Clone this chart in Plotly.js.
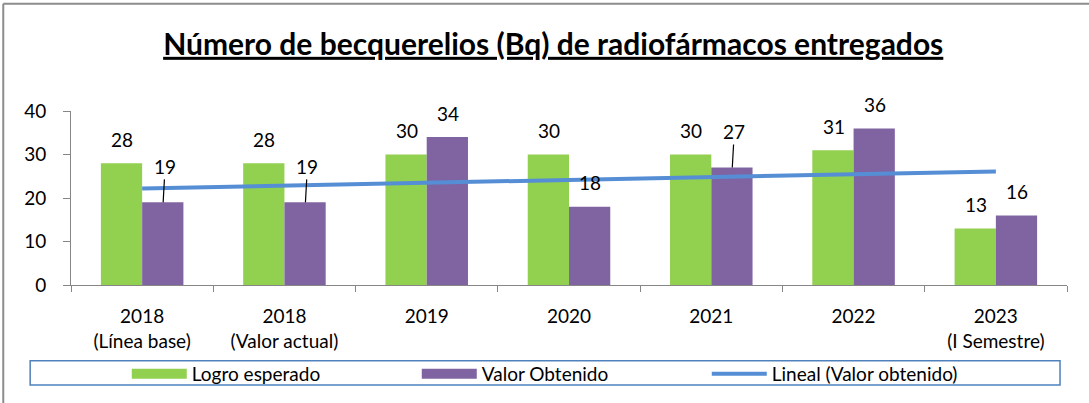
<!DOCTYPE html>
<html>
<head>
<meta charset="utf-8">
<script src="https://cdn.plot.ly/plotly-3.0.1.min.js"></script>
<style>
  body { margin: 0; background: #fff; }
  #grafico { width: 1089px; height: 403px; }
</style>
</head>
<body>
<div id="grafico"></div>
<script>
const CATEGORIAS = ["2018<br>(Línea base)", "2018<br>(Valor actual)", "2019", "2020", "2021", "2022", "2023<br>(I Semestre)"];
const LOGRO_ESPERADO = [28, 28, 30, 30, 30, 31, 13];
const VALOR_OBTENIDO = [19, 19, 34, 18, 27, 36, 16];
// Extremos de la línea de tendencia
const TENDENCIA = [22.2, 26.1];
// Etiquetas con línea guía
const CON_GUIA = [0, 1, 4];

const FUENTE = "Lato, 'Liberation Sans', sans-serif";
const VERDE = "#92D050";
const MORADO = "#8064A2";
const AZUL = "#558ED5";

// Definiendo datos
const DATA = [
     {
          x: CATEGORIAS,
          y: LOGRO_ESPERADO,
          name: "Logro esperado",
          type: "bar",
          marker: { color: VERDE },
          showlegend: false
     },
     {
          x: CATEGORIAS,
          y: VALOR_OBTENIDO,
          name: "Valor Obtenido",
          type: "bar",
          marker: { color: MORADO },
          showlegend: false
     },
     {
          x: [CATEGORIAS[0], CATEGORIAS[CATEGORIAS.length - 1]],
          y: TENDENCIA,
          name: "Lineal (Valor obtenido)",
          type: "scatter",
          mode: "lines",
          line: { color: AZUL, width: 4 },
          showlegend: false
     },
     // Entradas de la leyenda (muestras anchas como en Excel)
     { x: [null], y: [null], type: "scatter", mode: "lines", name: "Logro esperado",
       line: { color: VERDE, width: 12 } },
     { x: [null], y: [null], type: "scatter", mode: "lines", name: "Valor Obtenido",
       line: { color: MORADO, width: 12 } },
     { x: [null], y: [null], type: "scatter", mode: "lines", name: "Lineal (Valor obtenido)",
       line: { color: AZUL, width: 4 } }
];

// Etiquetas de datos (en ejes de categoría la anotación usa el índice)
const ANOTACIONES = [];
CATEGORIAS.forEach((cat, i) => {
     ANOTACIONES.push({
          x: i, y: LOGRO_ESPERADO[i], xshift: -20, yshift: 24,
          text: String(LOGRO_ESPERADO[i]), showarrow: false, yanchor: "middle"
     });
     if (CON_GUIA.includes(i)) {
          ANOTACIONES.push({
               x: i, y: VALOR_OBTENIDO[i], xshift: 21,
               text: String(VALOR_OBTENIDO[i]), showarrow: true,
               arrowhead: 0, arrowwidth: 1.2, arrowcolor: "#000",
               ax: 2, ay: -36, standoff: 0
          });
     } else {
          ANOTACIONES.push({
               x: i, y: VALOR_OBTENIDO[i], xshift: 21, yshift: 24,
               text: String(VALOR_OBTENIDO[i]), showarrow: false, yanchor: "middle"
          });
     }
});

// Definiendo layout
const LAYOUT = {
     width: 1089,
     height: 403,
     margin: { l: 71, r: 22, t: 111, b: 117 },
     paper_bgcolor: "#fff",
     plot_bgcolor: "#fff",
     font: { family: FUENTE, size: 19, color: "#000" },
     showlegend: true,

     // -> Cabecera
     title: {
          text: "<b>Número de becquerelios (Bq) de radiofármacos entregados</b>",
          font: { family: FUENTE, size: 30, color: "#000", lineposition: "under" },
          xref: "container", x: 0.508, xanchor: "center",
          yref: "container", y: 0.89, yanchor: "middle"
     },

     bargap: 0.42,
     bargroupgap: 0,

     // -> Pie
     xaxis: {
          type: "category",
          range: [-0.5, CATEGORIAS.length - 0.5],
          tickangle: 0,
          showline: true, linecolor: "#868686", linewidth: 1,
          ticks: "outside", tickson: "boundaries", ticklen: 6, tickcolor: "#868686",
          ticklabelstandoff: 14,
          showgrid: false, zeroline: false
     },

     // -> Lateral
     yaxis: {
          range: [0, 40], dtick: 10,
          showline: true, linecolor: "#868686", linewidth: 1,
          ticks: "outside", ticklen: 7, tickcolor: "#868686",
          ticklabelstandoff: 13,
          showgrid: false, zeroline: false
     },

     legend: {
          orientation: "h",
          x: 0.056, xanchor: "left",
          y: -0.503, yanchor: "middle",
          entrywidth: 220,
          itemwidth: 55,
          font: { family: FUENTE, size: 19, color: "#000" },
          bgcolor: "rgba(0,0,0,0)"
     },

     annotations: ANOTACIONES,

     shapes: [
          // Marco de la leyenda
          { type: "rect", xref: "paper", yref: "paper",
            x0: -0.041, x1: 0.993, y0: -0.575, y1: -0.435,
            line: { color: "#4F81BD", width: 1.5 } },
          // Borde del gráfico
          { type: "line", xref: "paper", yref: "paper",
            x0: -0.068, x1: -0.068, y0: 1.617, y1: -0.7,
            line: { color: "#8C8C8C", width: 2 } },
          { type: "line", xref: "paper", yref: "paper",
            x0: -0.068, x1: 1.03, y0: 1.617, y1: 1.617,
            line: { color: "#8C8C8C", width: 2 } }
     ]
};

// Mostrando en pantalla
Plotly.newPlot("grafico", DATA, LAYOUT, { displayModeBar: false });
</script>
</body>
</html>
